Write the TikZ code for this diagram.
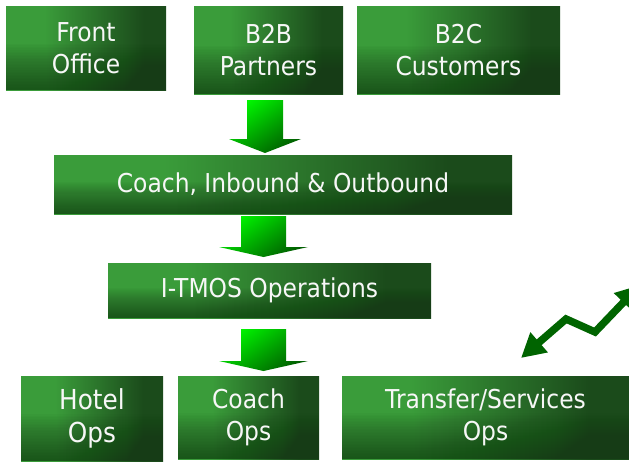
\documentclass[tikz,border=0pt]{standalone}
\usepackage{fontspec}
\newfontfamily\boxfont[FakeStretch=0.9]{DejaVu Sans}
\usetikzlibrary{calc,arrows.meta}
\definecolor{gl}{HTML}{3A9C3A}
\definecolor{gd}{HTML}{1B4B1B}
\definecolor{gbot}{HTML}{163C16}
\definecolor{arwA}{HTML}{00F500}
\definecolor{arwB}{HTML}{00A800}
\definecolor{arwC}{HTML}{005E00}
\definecolor{zig}{HTML}{006400}
\pgfdeclarehorizontalshading{boxh}{100bp}{color(0bp)=(gl); color(37bp)=(gl); color(68bp)=(gd); color(100bp)=(gd)}
\newcommand\blkarrow[7]{% name, xc, ytop, yneck, ytip, half shaft, half head
  \coordinate (#1) at (#2,#5);
  \shade[arrowshade] ({#2-#6},#3) -- ({#2+#6},#3) -- ({#2+#6},#4) -- ({#2+#7},#4)
    -- (#1) -- ({#2-#7},#4) -- ({#2-#6},#4) -- cycle;}
\tikzset{
  gbox/.style={rectangle, inner sep=0pt, text=white!94!gray, align=center,
    font=\boxfont\fontsize{26}{32}\selectfont,
    path picture={
      \shade[shading=boxh] (path picture bounding box.south west) rectangle (path picture bounding box.north east);
      \foreach \k in {1,...,30}{
        \fill[gbot, fill opacity=0.03]
          (path picture bounding box.south west) rectangle
          ($(path picture bounding box.south east)!{\k/30*0.55}!(path picture bounding box.north east)$);
      }
    }},
  arrowshade/.style={top color=arwA, bottom color=arwC, middle color=arwB, shading angle=35},
  zigline/.style={draw=zig, line width=7.5pt, line join=miter,
    {Triangle[length=24pt,width=25pt]}-{Triangle[length=24pt,width=25pt]}}
}
\begin{document}
\begin{tikzpicture}[x=1pt,y=-1pt]
\clip (0,0) rectangle (629,461);
% top row
\node[gbox, minimum width=160pt, minimum height=84pt] (fo) at (86,48) {Front\\Office};
\node[gbox, minimum width=149pt, minimum height=88pt] (b2b) at (268.5,50) {B2B\\Partners};
\node[gbox, minimum width=203pt, minimum height=88pt] (b2c) at (458.5,50) {B2C\\Customers};
% middle
\node[gbox, minimum width=458pt, minimum height=59pt] (cio) at (283,184.5) {Coach, Inbound \& Outbound};
\node[gbox, minimum width=323pt, minimum height=55pt] (itmos) at (269.5,290.5) {I-TMOS Operations};
% bottom row
\node[gbox, minimum width=142pt, minimum height=85pt, font=\boxfont\fontsize{27.5}{33}\selectfont] (hotel) at (92,418.5) {Hotel\\Ops};
\node[gbox, minimum width=141pt, minimum height=83pt] (cops) at (248.5,417.5) {Coach\\Ops};
\node[gbox, minimum width=287pt, minimum height=83pt] (tso) at (485.5,417.5) {Transfer/Services\\Ops};
% block arrows
\blkarrow{a1}{265}{100}{139}{153}{18}{36}
\blkarrow{a2}{263.5}{216}{247}{257}{22.5}{44.5}
\blkarrow{a3}{263.5}{329}{361}{371}{22.5}{44.5}
% zigzag double arrow
\coordinate (zt) at (640,285);
\coordinate (z1) at (595,332);
\coordinate (z2) at (566,319);
\coordinate (zb) at (521,358);
\draw[zigline] (zt) -- (z1) -- (z2) -- (zb);
\end{tikzpicture}
\end{document}
